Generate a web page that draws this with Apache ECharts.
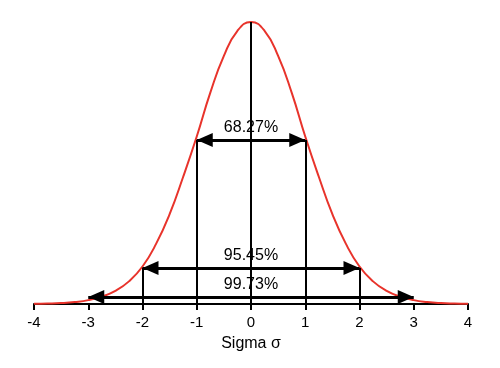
<!DOCTYPE html>
<html><head><meta charset="utf-8">
<script src="https://cdn.jsdelivr.net/npm/echarts@6/dist/echarts.min.js"></script>
<style>html,body{margin:0;padding:0;background:#fff}#c{width:500px;height:368px}</style>
</head><body><div id="c"></div>
<script>
// Curve samples (sigma, relative height)
var sigmaX = [-4,-3.75,-3.5,-3.25,-3,-2.75,-2.5,-2.25,-2,-1.75,-1.5,-1.25,-1,-0.75,-0.5,-0.25,0,0.25,0.5,0.75,1,1.25,1.5,1.75,2,2.25,2.5,2.75,3,3.25,3.5,3.75,4];
var density = [0.0002,0.0006,0.0013,0.0028,0.0055,0.0105,0.0185,0.0320,0.0530,0.0850,0.1270,0.1800,0.2370,0.2990,0.3510,0.3865,0.3989,0.3865,0.3510,0.2990,0.2370,0.1800,0.1270,0.0850,0.0530,0.0320,0.0185,0.0105,0.0055,0.0028,0.0013,0.0006,0.0002];
// Range arrows
var rangeLabels = ['68.27%','95.45%','99.73%'];
var rangeHalfWidth = [1,2,3];
var rangeLevel = [0.232,0.051,0.010];
// Vertical guide lines
var guideX = [-2,-1,0,1,2];
var guideTop = [0.051,0.232,0.3989,0.232,0.051];
var tickLabels = ['-4','-3','-2','-1','0','1','2','3','4'];

var chart = echarts.init(document.getElementById('c'));
var curve = sigmaX.map(function(x,i){return [x,density[i]];});
var guides = guideX.map(function(x,i){return [{coord:[x,0]},{coord:[x,guideTop[i]]}];});
var arrows = rangeHalfWidth.map(function(w,i){return [{coord:[-w,rangeLevel[i]]},{coord:[w,rangeLevel[i]]}];});
var labelPts = rangeLabels.map(function(t,i){return {value:[0,rangeLevel[i]],name:t};});
var font = 'Liberation Sans, Arial';

chart.setOption({
  animation:false,
  backgroundColor:'#fff',
  grid:{left:34,right:32,top:22,bottom:64},
  xAxis:{type:'value',min:-4,max:4,interval:1,
    axisLine:{onZero:false,lineStyle:{color:'#000',width:2}},
    axisTick:{show:true,length:6,lineStyle:{color:'#000',width:2}},
    axisLabel:{color:'#000',fontSize:15,fontFamily:font,margin:11,
      formatter:function(v){return tickLabels[Math.round(v)+4];}},
    splitLine:{show:false},
    name:'Sigma σ',nameLocation:'middle',nameGap:32,
    nameTextStyle:{color:'#000',fontSize:16,fontFamily:font}},
  yAxis:{type:'value',min:0,max:0.3989,show:false,splitLine:{show:false}},
  series:[
    {type:'line',data:curve,smooth:true,symbol:'none',z:3,
     lineStyle:{color:'#e8332b',width:2}},
    {type:'line',data:[],symbol:'none',z:4,
     markLine:{silent:true,symbol:['none','none'],label:{show:false},
       lineStyle:{color:'#000',width:2,type:'solid',opacity:1},data:guides}},
    {type:'line',data:[],symbol:'none',z:5,
     markLine:{silent:true,symbol:['triangle','triangle'],symbolSize:[14,16],
       symbolOffset:[[0,8],[0,8]],label:{show:false},
       itemStyle:{color:'#000'},
       lineStyle:{color:'#000',width:3,type:'solid',opacity:1},data:arrows}},
    {type:'scatter',data:labelPts,symbolSize:0,z:6,
     itemStyle:{opacity:1},
     label:{show:true,position:'top',distance:4,color:'#000',fontSize:16,
       fontFamily:font,formatter:function(p){return p.name;}}}
  ]
});
</script></body></html>
